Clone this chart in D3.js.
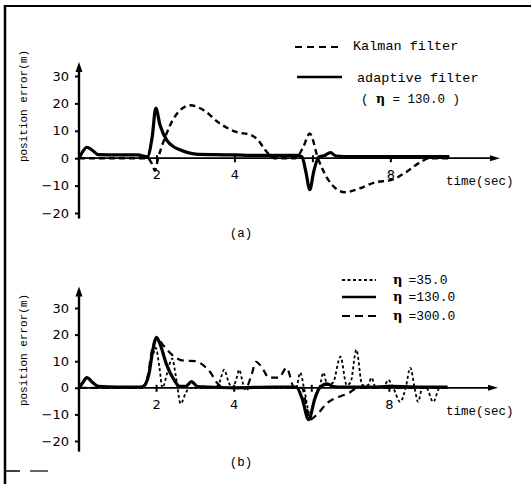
<!DOCTYPE html>
<html>
<head>
<meta charset="utf-8">
<script src="https://cdn.jsdelivr.net/npm/d3@7/dist/d3.min.js"></script>
<style>
  body { margin: 0; background: #fff; }
  svg { display: block; }
  .tick text { font-family: "DejaVu Sans", sans-serif; font-size: 13px; fill: #000; }
  .lbl { font-family: "Liberation Mono", monospace; fill: #000; }
</style>
</head>
<body>
<svg id="chart" width="531" height="484"></svg>
<script>
// ---- data ----
// panel (a): Kalman vs adaptive filter
var kalmanT = [0, 1.0, 1.75, 1.87, 1.95, 2.03, 2.2, 2.45, 2.85, 3.2, 3.6, 4.05, 4.4, 4.6, 4.75, 4.9, 5.0, 5.55, 5.75, 5.92, 6.13, 6.4, 6.82, 7.2, 7.6, 8.0, 8.4, 8.75, 9.0, 9.5];
var kalmanE = [0, 0, 0, -2, -4.5, 0, 7.3, 15, 19.3, 17.5, 12.8, 9.5, 8.5, 6.5, 3.5, 1, 0, 0, 4, 9, 0, -8, -12.4, -11, -8.8, -8, -5, -1.5, 0, 0];
var adaptiveT = [0, 0.1, 0.2, 0.35, 0.5, 1.0, 1.5, 1.75, 1.88, 1.97, 2.08, 2.25, 2.45, 2.6, 3.0, 3.5, 4.0, 4.5, 5.0, 5.6, 5.72, 5.82, 5.92, 6.02, 6.15, 6.3, 6.45, 6.6, 7.0, 8.0, 9.0, 9.5];
var adaptiveE = [0, 2.5, 4, 2.8, 1.3, 1.2, 1.2, 0.5, 8, 18.3, 12, 6.6, 4, 3, 1.5, 1.3, 1.2, 1, 1, 1, 0.5, -5, -11.5, -5, 0.5, 1, 2, 0.8, 0.6, 0.6, 0.6, 0.6];

// panel (b): three values of eta
var eta35T = [0, 1.6, 1.75, 1.9, 1.98, 2.07, 2.15, 2.28, 2.4, 2.5, 2.62, 2.75, 2.85, 3.5, 3.62, 3.74, 3.86, 3.95, 4.05, 4.13, 4.22, 4.3, 4.4, 5.0, 5.6, 5.7, 5.8, 5.95, 6.1, 6.2, 6.3, 6.4, 6.55, 6.74, 6.9, 7.0, 7.15, 7.3, 7.45, 7.54, 7.65, 7.85, 7.97, 8.1, 8.28, 8.42, 8.54, 8.65, 8.74, 8.85, 8.95, 9.13, 9.3, 9.5];
var eta35E = [0, 0, 3, 12, 15, 8, 0, 6, 11, 4, -6, -2, 0, 0, 2, 6.8, 2, 0, 3, 6.8, 2, -1, 0, 0, 0, 5.7, 0, -10, -3, 0, 5.7, 1, 2, 11.7, 1, 2, 14.3, 1, 1, 3.8, 0, 0, 3, 0, -5.3, 0, 7.5, 0, -5.3, 0, 0, -5.3, 0, 0];
var eta130T = [0, 0.1, 0.2, 0.35, 0.5, 1.0, 1.5, 1.65, 1.8, 1.9, 2.0, 2.1, 2.25, 2.45, 2.6, 2.75, 2.9, 3.05, 3.3, 4.0, 5.0, 5.6, 5.75, 5.92, 6.08, 6.2, 6.4, 6.55, 6.8, 7.5, 8.0, 9.0, 9.5];
var eta130E = [0, 2, 3.8, 2, 0.5, 0.3, 0.3, 0.5, 5, 14, 19, 16, 9, 3, 0.5, 0.5, 2.3, 0.5, 0.3, 0, 0.3, 0.3, -4, -12, -4, 0, 1.5, 0.5, 0.3, 0.3, 0.5, 0.3, 0.3];
var eta300T = [0, 1.6, 1.75, 1.88, 2.0, 2.2, 2.4, 2.7, 3.0, 3.2, 3.4, 3.55, 3.75, 4.3, 4.45, 4.56, 4.7, 4.9, 5.15, 5.35, 5.55, 5.75, 5.85, 5.95, 6.1, 6.4, 6.95, 7.2, 8.0, 9.5];
var eta300E = [0, 0, 3, 14, 18.5, 15.5, 12.4, 10.2, 10, 8.5, 5.5, 2, 0, 0, 5, 9.8, 8, 3.8, 3.8, 7.5, 0, 0, -6, -12, -10.5, -5.7, -2, 0, 0, 0];

var yTicks = [-20, -10, 0, 10, 20, 30];
var xTicks = [2, 4, 6, 8];
var xLabels = [2, 4, 8];

var svg = d3.select("#chart");

// frame of the scanned figure
svg.append("line").attr("x1", 4).attr("x2", 531).attr("y1", 6).attr("y2", 6)
  .attr("stroke", "#000").attr("stroke-width", 2);
svg.append("line").attr("x1", 5).attr("x2", 5).attr("y1", 5).attr("y2", 484)
  .attr("stroke", "#000").attr("stroke-width", 2.5);
svg.append("line").attr("x1", 5).attr("x2", 20).attr("y1", 471).attr("y2", 471)
  .attr("stroke", "#000").attr("stroke-width", 1.5);
svg.append("line").attr("x1", 30).attr("x2", 48).attr("y1", 471).attr("y2", 471)
  .attr("stroke", "#000").attr("stroke-width", 1.2);

function zip(ts, es) { return ts.map(function (t, i) { return [t, es[i]]; }); }

function panel(opt) {
  var x = d3.scaleLinear().domain([0, 10.8]).range([79, opt.xEnd]);
  var y = d3.scaleLinear().domain([-20, 30]).range(opt.yRange);
  var g = svg.append("g");

  // y axis ticks
  var yAxis = d3.axisLeft(y).tickValues(yTicks).tickSize(4).tickSizeOuter(0).tickPadding(6)
    .tickFormat(function (d) { return d < 0 ? "\u2212" + (-d) : d; });
  var ya = g.append("g").attr("transform", "translate(79,0)").call(yAxis);
  ya.select(".domain").remove();
  ya.selectAll(".tick line").attr("stroke-width", 2);
  g.append("line").attr("x1", 79).attr("x2", 79)
    .attr("y1", y(opt.yBot)).attr("y2", y(opt.yTop) + 4)
    .attr("stroke", "#000").attr("stroke-width", 2.4);
  g.append("path")
    .attr("d", "M79," + (y(opt.yTop) - 3) + "L75.5," + (y(opt.yTop) + 7) + "L82.5," + (y(opt.yTop) + 7) + "Z")
    .attr("fill", "#000");

  // x axis
  var y0 = y(0);
  g.append("line").attr("x1", 79).attr("x2", x(10.8) - 6)
    .attr("y1", y0).attr("y2", y0).attr("stroke", "#000").attr("stroke-width", 1.8);
  g.append("path")
    .attr("d", "M" + (x(10.8)) + "," + y0 + "L" + (x(10.8) - 10) + "," + (y0 - 3) + "L" + (x(10.8) - 10) + "," + (y0 + 3) + "Z")
    .attr("fill", "#000");
  g.selectAll(".xt").data(xTicks).enter().append("line")
    .attr("x1", function (d) { return x(d); }).attr("x2", function (d) { return x(d); })
    .attr("y1", y0 - 3).attr("y2", y0 + 4).attr("stroke", "#000").attr("stroke-width", 2);
  g.selectAll(".xl").data(xLabels).enter().append("text")
    .attr("x", function (d) { return x(d); }).attr("y", y0 + 21)
    .attr("text-anchor", "middle")
    .style("font-family", "DejaVu Sans, sans-serif").style("font-size", "13px")
    .text(function (d) { return d; });

  g.append("text").attr("class", "lbl")
    .attr("x", 446).attr("y", y0 + 27).style("font-size", "12.5px").text("time(sec)");
  g.append("text").attr("class", "lbl")
    .attr("transform", "translate(27," + opt.yLabelMid + ") rotate(-90)")
    .attr("text-anchor", "middle").style("font-size", "11px").text("position error(m)");
  g.append("text").attr("class", "lbl")
    .attr("x", 241).attr("y", opt.capY).attr("text-anchor", "middle")
    .style("font-size", "12.5px").text(opt.caption);

  var line = d3.line().x(function (d) { return x(d[0]); }).y(function (d) { return y(d[1]); })
    .curve(d3.curveMonotoneX);
  opt.series.forEach(function (s) {
    g.append("path").datum(zip(s.t, s.e))
      .attr("d", line).attr("fill", "none").attr("stroke", "#000")
      .attr("stroke-width", s.w).attr("stroke-dasharray", s.dash)
      .attr("stroke-linejoin", "round");
  });
  return g;
}

panel({
  xEnd: 500, yRange: [213, 76], yTop: 34, yBot: -22, yLabelMid: 106,
  caption: "(a)", capY: 237,
  series: [
    { t: kalmanT, e: kalmanE, w: 2.4, dash: "6,4" },
    { t: adaptiveT, e: adaptiveE, w: 3.2, dash: null }
  ]
});

panel({
  xEnd: 498, yRange: [441, 308], yTop: 37, yBot: -24, yLabelMid: 350,
  caption: "(b)", capY: 466,
  series: [
    { t: eta300T, e: eta300E, w: 2.2, dash: "7,5" },
    { t: eta35T, e: eta35E, w: 1.8, dash: "3,2.5" },
    { t: eta130T, e: eta130E, w: 3.2, dash: null }
  ]
});

// legend (a)
svg.append("line").attr("x1", 295).attr("x2", 342).attr("y1", 47).attr("y2", 47)
  .attr("stroke", "#000").attr("stroke-width", 2.2).attr("stroke-dasharray", "7,5");
svg.append("line").attr("x1", 297).attr("x2", 342).attr("y1", 77).attr("y2", 77)
  .attr("stroke", "#000").attr("stroke-width", 2.4);
svg.append("text").attr("class", "lbl").attr("x", 353).attr("y", 50)
  .style("font-size", "13.5px").text("Kalman filter");
svg.append("text").attr("class", "lbl").attr("x", 357).attr("y", 82)
  .style("font-size", "13.5px").text("adaptive filter");
var t3 = svg.append("text").attr("class", "lbl").attr("x", 361).attr("y", 103)
  .style("font-size", "12.5px");
t3.append("tspan").text("( ");
t3.append("tspan").style("font-weight", "bold").style("font-family", "DejaVu Serif, serif").text("\u03b7");
t3.append("tspan").text(" = 130.0 )");

// legend (b)
var legB = [
  { y: 280, dash: "3,2.5", w: 1.8, label: "=35.0" },
  { y: 297, dash: null, w: 2.6, label: "=130.0" },
  { y: 316, dash: "8,5", w: 2.2, label: "=300.0" }
];
legB.forEach(function (d) {
  svg.append("line").attr("x1", 342).attr("x2", 376).attr("y1", d.y).attr("y2", d.y)
    .attr("stroke", "#000").attr("stroke-width", d.w).attr("stroke-dasharray", d.dash);
  var t = svg.append("text").attr("class", "lbl").attr("x", 393).attr("y", d.y + 4)
    .style("font-size", "13px");
  t.append("tspan").style("font-weight", "bold").style("font-family", "DejaVu Serif, serif").text("\u03b7");
  t.append("tspan").attr("dx", 6).text(d.label);
});
</script>
</body>
</html>
